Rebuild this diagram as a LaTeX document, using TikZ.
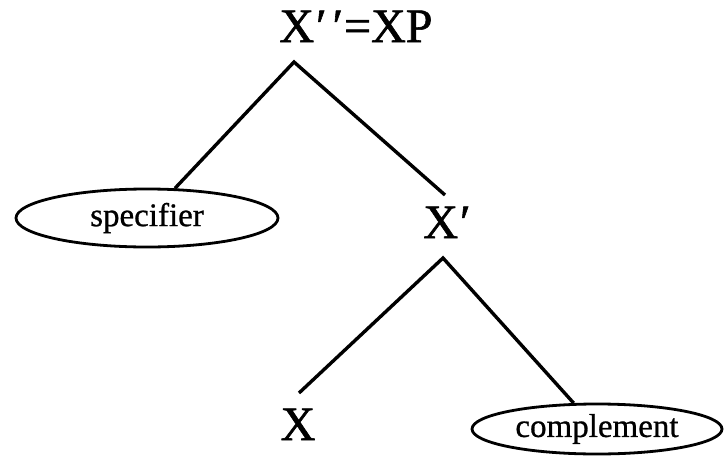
\documentclass[tikz,border=0pt]{standalone}
\usepackage{fontspec}
\setmainfont{Liberation Serif}
\newfontfamily\heavyserif[FakeBold=1.2]{Liberation Serif}
\newfontfamily\midserif[FakeBold=0.8]{Liberation Serif}
\usetikzlibrary{shapes.geometric}
\begin{document}
\begin{tikzpicture}[x=1pt,y=-1pt,
  big/.style={font=\heavyserif\fontsize{48}{52}\selectfont, inner sep=0pt, anchor=base},
  oval/.style={draw, ellipse, line width=2.8pt, inner sep=0pt, font=\midserif\fontsize{33}{36}\selectfont},
  branch/.style={line width=3.4pt}]
\useasboundingbox (0,0) rectangle (726,458);
\node[big] (top) at (356,42) {X\kern2pt′\kern6pt′\kern1pt=XP};
\node[big] (xbar) at (447,238) {X\kern2pt′};
\node[big] (x) at (298,440) {X};
\node[oval, minimum width=262pt, minimum height=58pt] (spec) at (147,218) {specifier};
\node[oval, minimum width=250pt, minimum height=50pt] (comp) at (597,429) {complement};
\coordinate (a1) at (294,62);
\coordinate (e1) at (445,195);
\coordinate (a2) at (443,258);
\coordinate (e2) at (299,393);
\draw[branch] (spec) -- (a1) -- (e1);
\draw[branch] (e2) -- (a2) -- (comp);
\end{tikzpicture}
\end{document}
